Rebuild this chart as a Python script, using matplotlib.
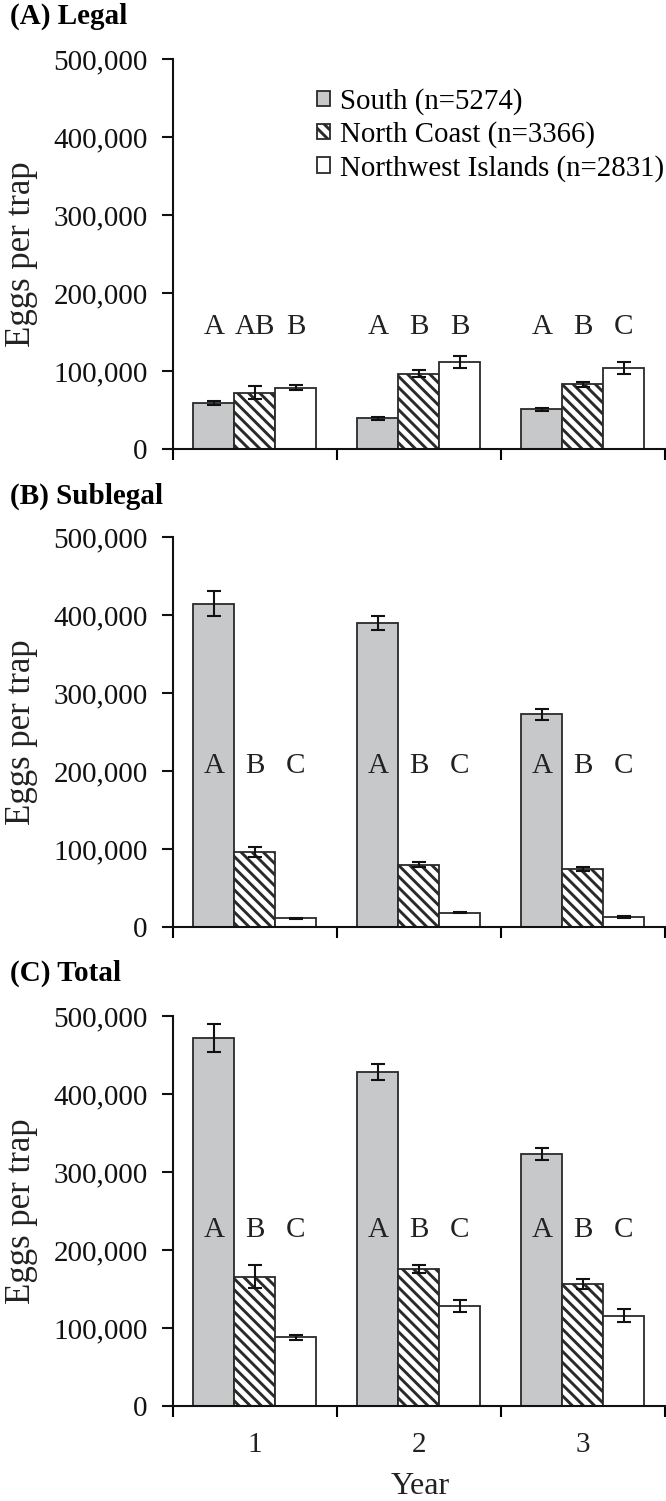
import numpy as np
import matplotlib.pyplot as plt
from matplotlib.ticker import FuncFormatter

plt.rcParams['font.family'] = 'Liberation Serif'
plt.rcParams['hatch.linewidth'] = 2.1

years = [1, 2, 3]
regions = ['South (n=5274)', 'North Coast (n=3366)', 'Northwest Islands (n=2831)']

# (A) Legal
legal_south = [58500, 39300, 50900]
legal_south_err = [2700, 2000, 2000]
legal_north = [72200, 96700, 83000]
legal_north_err = [8600, 4000, 3500]
legal_nw = [78600, 111600, 104400]
legal_nw_err = [3200, 7700, 7700]
legal_letters = [['A', 'AB', 'B'], ['A', 'B', 'B'], ['A', 'B', 'C']]

# (B) Sublegal
sub_south = [414500, 389700, 273000]
sub_south_err = [16000, 9400, 7000]
sub_north = [95700, 79900, 74400]
sub_north_err = [6500, 3000, 3000]
sub_nw = [11100, 18400, 12800]
sub_nw_err = [1000, 1000, 1500]
sub_letters = [['A', 'B', 'C']] * 3

# (C) Total
tot_south = [472000, 428000, 323500]
tot_south_err = [18000, 10000, 7500]
tot_north = [165800, 175600, 156000]
tot_north_err = [15000, 5000, 6500]
tot_nw = [88000, 128600, 116000]
tot_nw_err = [3500, 7500, 8000]
tot_letters = [['A', 'B', 'C']] * 3

panels = [
    ("(A) Legal", [legal_south, legal_north, legal_nw],
     [legal_south_err, legal_north_err, legal_nw_err], legal_letters, 156000),
    ("(B) Sublegal", [sub_south, sub_north, sub_nw],
     [sub_south_err, sub_north_err, sub_nw_err], sub_letters, 206000),
    ("(C) Total", [tot_south, tot_north, tot_nw],
     [tot_south_err, tot_north_err, tot_nw_err], tot_letters, 226000),
]

faces = ['#c7c8ca', 'white', 'white']
hatches = [None, '\\\\\\', None]
edge = '#2a2a2a'

fig = plt.figure(figsize=(6.66, 15.01), dpi=100)
W, H = 666, 1501
left = 172.7 / W
width = (665 - 172.7) / W
height = 390 / H
bottoms = [1 - 449 / H, 1 - 927 / H, 1 - 1406 / H]
title_y = [16, 496, 973]

bw = 0.25
x = np.array(years)

for i, (title, vals, errs, letters, let_y) in enumerate(panels):
    ax = fig.add_axes([left, bottoms[i], width, height])
    for j in range(3):
        pos = x + (j - 1) * bw
        ax.bar(pos, vals[j], width=bw, color=faces[j], edgecolor=edge,
               linewidth=1.3, hatch=hatches[j], label=regions[j], zorder=2)
        ax.errorbar(pos, vals[j], yerr=errs[j], fmt='none', ecolor='#111111',
                    elinewidth=1.5, capsize=5, capthick=1.5, zorder=3)
        for k in range(3):
            ax.text(pos[k], let_y, letters[k][j], ha='center', va='center',
                    fontsize=21, color='#222222', zorder=4)

    ax.set_xlim(0.5, 3.5)
    ax.set_ylim(0, 500000)
    ax.set_yticks(np.arange(0, 500001, 100000))
    ax.yaxis.set_major_formatter(FuncFormatter(lambda v, p: f"{int(v):,}"))
    ax.set_xticks([0.5, 1.5, 2.5, 3.5])
    ax.set_xticklabels([])
    ax.tick_params(axis='y', direction='out', length=8, width=1.5, pad=10,
                   labelsize=21, colors='#111111')
    ax.tick_params(axis='x', direction='out', length=8, width=1.5)
    for s in ['top', 'right']:
        ax.spines[s].set_visible(False)
    for s in ['left', 'bottom']:
        ax.spines[s].set_linewidth(1.5)
        ax.spines[s].set_color('#111111')

    fig.text(10 / W, 1 - title_y[i] / H, title, fontsize=21, fontweight='bold',
             ha='left', va='center')
    fig.text(22 / W, bottoms[i] + height / 2, 'Eggs per trap', rotation=90,
             fontsize=25, ha='center', va='center', color='#222222')

    if i == 0:
        ax.legend(loc='upper left', bbox_to_anchor=(0.27, 0.955), frameon=False,
                  fontsize=20.8, handlelength=0.45, handleheight=0.45,
                  handletextpad=0.35, labelspacing=0.22, borderaxespad=0)
    if i == 2:
        for k, yr in enumerate(years):
            ax.text(yr, -39 / 390 * 500000, str(yr), ha='center', va='center',
                    fontsize=21, color='#222222')
        fig.text(420 / W, 1 - 1486 / H, 'Year', fontsize=23, ha='center',
                 va='center', color='#222222')

fig.savefig('out.png', dpi=100)
